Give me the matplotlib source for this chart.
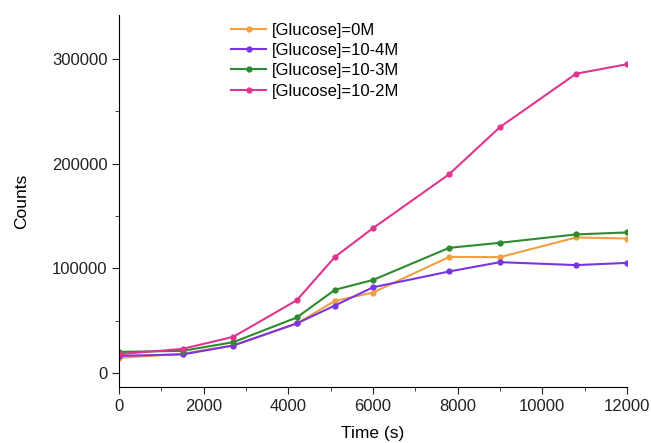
import numpy as np
import matplotlib.pyplot as plt

plt.rcParams['font.family'] = ['Liberation Sans', 'DejaVu Sans']

# Time points (s)
time = np.array([0, 1500, 2700, 4200, 5100, 6000, 7800, 9000, 10800, 12000])

# Counts for each glucose concentration
counts_0M = np.array([14600, 18500, 26500, 47500, 69000, 77000, 111000, 110800, 129600, 128600])
counts_1e4 = np.array([16500, 17900, 26400, 47500, 64600, 82000, 97100, 106000, 103200, 105300])
counts_1e3 = np.array([20300, 21300, 29600, 53200, 79600, 89000, 119700, 124500, 132500, 134400])
counts_1e2 = np.array([18100, 23200, 34700, 69700, 111000, 138500, 190000, 235000, 286000, 295000])

labels = ['[Glucose]=0M', '[Glucose]=10-4M', '[Glucose]=10-3M', '[Glucose]=10-2M']
colors = ['#f0a040', '#7b35e0', '#2e8a2e', '#e0358f']

fig = plt.figure(figsize=(6.51, 4.43), dpi=100)
ax = fig.add_axes([0.183, 0.126, 0.78, 0.84])

for y, lab, c in zip([counts_0M, counts_1e4, counts_1e3, counts_1e2], labels, colors):
    ax.plot(time, y, color=c, lw=1.5, marker='o', ms=3.5, label=lab)

ax.set_xlim(0, 12000)
ax.set_ylim(-13400, 342000)
ax.set_xticks(np.arange(0, 12001, 2000))
ax.set_xticks(np.arange(1000, 12000, 2000), minor=True)
ax.set_yticks([0, 100000, 200000, 300000])
ax.set_yticks([50000, 150000, 250000], minor=True)
ax.tick_params(which='major', direction='out', length=5, labelsize=12, colors='#222222')
ax.tick_params(which='minor', direction='out', length=3, color='#222222')
for s in ['top', 'right']:
    ax.spines[s].set_visible(False)

ax.set_xlabel('Time (s)', fontsize=12.5, labelpad=9)
ax.set_ylabel('Counts', fontsize=12.5, labelpad=16)

ax.legend(loc='upper left', bbox_to_anchor=(0.19, 1.02), frameon=False,
          fontsize=12, handlelength=2.15, handletextpad=0.3, labelspacing=0.32)

fig.savefig('out.png', dpi=100)
